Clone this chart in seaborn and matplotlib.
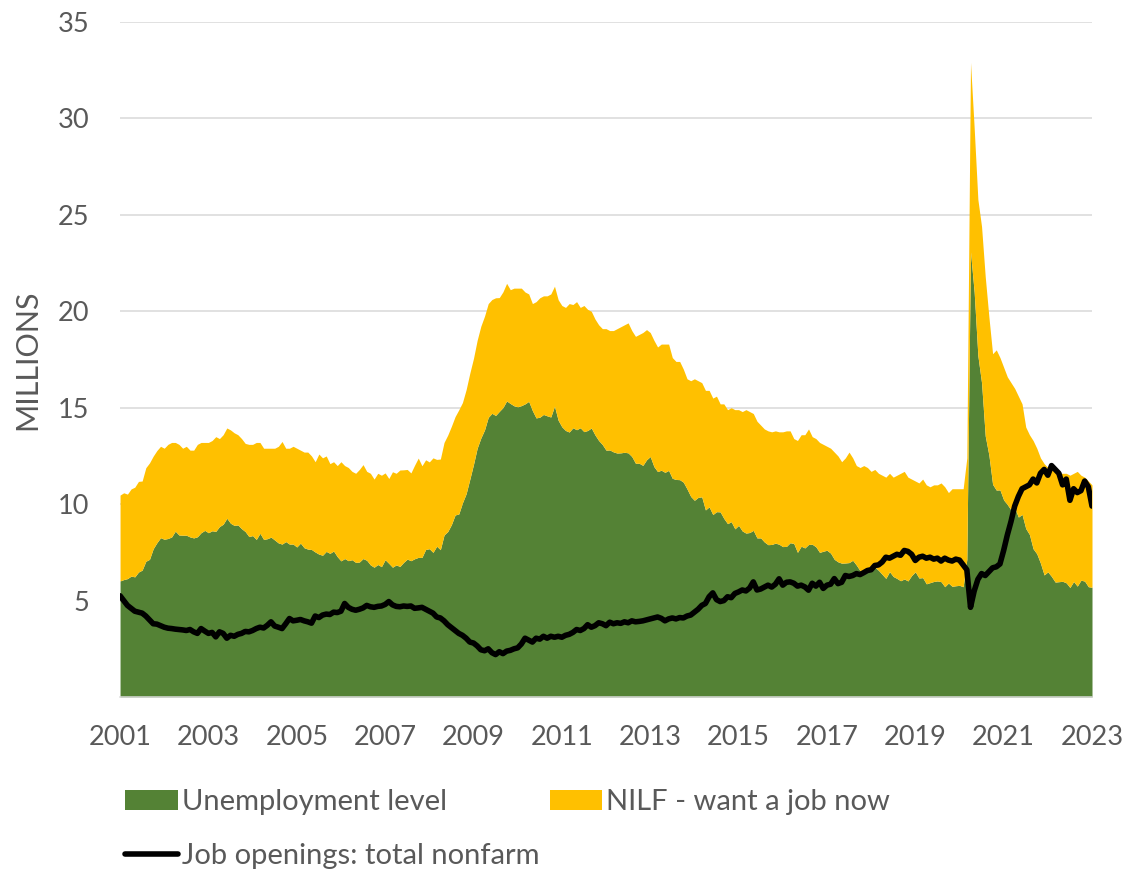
import numpy as np
import pandas as pd
import matplotlib.pyplot as plt
import seaborn as sns

# valores mensais em milhoes, jan/2001 a jan/2023
unemployment_level = [
    6.02, 6.09, 6.14, 6.27, 6.23, 6.48, 6.58, 7.04, 7.14, 7.69, 8.00, 8.26,
    8.18, 8.22, 8.30, 8.60, 8.40, 8.39, 8.39, 8.30, 8.25, 8.31, 8.52, 8.64,
    8.52, 8.62, 8.59, 8.84, 8.96, 9.27, 9.01, 8.90, 8.92, 8.73, 8.58, 8.32,
    8.37, 8.17, 8.49, 8.17, 8.21, 8.29, 8.14, 7.99, 7.93, 8.06, 7.93, 7.93,
    7.78, 7.98, 7.74, 7.67, 7.65, 7.52, 7.41, 7.35, 7.55, 7.45, 7.57, 7.28,
    7.06, 7.18, 7.07, 7.12, 6.98, 7.00, 7.18, 7.09, 6.85, 6.73, 6.87, 6.76,
    7.12, 6.93, 6.73, 6.85, 6.77, 6.98, 7.15, 7.07, 7.17, 7.24, 7.24, 7.65,
    7.69, 7.50, 7.82, 7.64, 8.40, 8.58, 8.94, 9.44, 9.49, 10.07, 10.54, 11.29,
    12.06, 12.90, 13.43, 13.85, 14.50, 14.71, 14.60, 14.81, 15.01, 15.35, 15.22, 15.10,
    15.05, 15.11, 15.20, 15.33, 14.85, 14.47, 14.51, 14.65, 14.58, 14.52, 15.08, 14.35,
    14.01, 13.82, 13.74, 13.96, 13.86, 13.96, 13.76, 13.82, 13.95, 13.59, 13.30, 13.09,
    12.80, 12.81, 12.71, 12.65, 12.66, 12.69, 12.66, 12.47, 12.12, 12.12, 12.01, 12.30,
    12.47, 11.95, 11.69, 11.76, 11.65, 11.75, 11.34, 11.28, 11.27, 11.14, 10.79, 10.40,
    10.20, 10.35, 10.38, 9.70, 9.86, 9.46, 9.61, 9.60, 9.26, 8.99, 9.09, 8.72,
    8.90, 8.61, 8.50, 8.53, 8.64, 8.25, 8.25, 8.04, 7.90, 7.91, 7.98, 7.92,
    7.80, 7.81, 8.00, 7.96, 7.50, 7.82, 7.73, 7.91, 7.92, 7.79, 7.50, 7.56,
    7.61, 7.46, 7.14, 7.01, 6.94, 6.95, 6.97, 7.09, 6.84, 6.55, 6.61, 6.57,
    6.67, 6.74, 6.57, 6.36, 6.15, 6.50, 6.25, 6.15, 6.03, 6.12, 6.02, 6.30,
    6.49, 6.17, 6.19, 5.87, 5.93, 5.99, 6.02, 5.98, 5.72, 5.91, 5.74, 5.77,
    5.79, 5.72, 7.14, 23.08, 20.99, 17.70, 16.30, 13.54, 12.54, 11.03, 10.73, 10.74,
    10.22, 9.98, 9.70, 9.81, 9.33, 9.47, 8.74, 8.43, 7.69, 7.43, 6.94, 6.33,
    6.49, 6.25, 5.96, 5.98, 6.00, 5.92, 5.68, 5.99, 5.75, 6.06, 6.01, 5.72,
    5.69,
]

nilf_want_job = [
    4.45, 4.50, 4.38, 4.52, 4.65, 4.70, 4.62, 4.85, 5.00, 4.80, 4.78, 4.74,
    4.72, 4.88, 4.90, 4.60, 4.70, 4.51, 4.61, 4.50, 4.55, 4.79, 4.68, 4.56,
    4.68, 4.68, 4.91, 4.56, 4.64, 4.68, 4.84, 4.80, 4.68, 4.67, 4.57, 4.78,
    4.73, 5.03, 4.71, 4.73, 4.69, 4.61, 4.76, 5.01, 5.32, 4.84, 4.97, 5.07,
    5.12, 4.82, 4.96, 5.03, 4.85, 4.68, 5.19, 5.05, 4.95, 4.65, 4.63, 4.72,
    5.14, 4.82, 4.83, 4.58, 4.62, 4.80, 4.87, 4.61, 4.75, 4.57, 4.73, 4.74,
    4.50, 4.40, 4.95, 4.75, 5.00, 4.80, 4.65, 4.55, 4.85, 5.15, 4.75, 4.65,
    4.50, 4.90, 4.50, 4.70, 4.80, 5.00, 5.10, 5.10, 5.40, 5.20, 5.40, 5.50,
    5.50, 5.60, 5.80, 5.90, 5.90, 5.90, 6.10, 5.90, 6.00, 6.10, 5.90, 6.10,
    6.15, 6.09, 5.80, 5.57, 5.55, 6.03, 6.19, 6.15, 6.22, 6.38, 6.22, 6.25,
    6.29, 6.38, 6.66, 6.39, 6.64, 6.24, 6.54, 6.28, 6.05, 6.01, 6.00, 6.01,
    6.30, 6.19, 6.29, 6.45, 6.54, 6.61, 6.74, 6.53, 6.58, 6.68, 6.89, 6.75,
    6.43, 6.55, 6.46, 6.54, 6.65, 6.55, 6.26, 6.12, 6.13, 5.86, 5.71, 6.00,
    6.30, 6.05, 5.92, 6.20, 6.04, 6.04, 5.99, 5.60, 5.94, 5.91, 5.91, 6.18,
    6.00, 6.19, 6.40, 6.27, 6.06, 6.05, 5.85, 5.86, 5.90, 5.84, 5.82, 5.83,
    5.95, 5.99, 5.80, 5.44, 5.80, 5.78, 5.87, 5.99, 5.58, 5.61, 5.70, 5.54,
    5.39, 5.44, 5.56, 5.49, 5.26, 5.45, 5.73, 5.31, 5.16, 5.35, 5.39, 5.33,
    5.03, 5.06, 5.03, 5.14, 5.25, 5.10, 5.15, 5.35, 5.57, 5.58, 5.38, 5.00,
    4.71, 4.93, 5.11, 5.13, 4.97, 5.01, 4.98, 5.12, 5.18, 4.69, 5.06, 5.03,
    5.01, 5.08, 5.26, 9.82, 8.51, 8.10, 8.10, 8.26, 7.16, 6.77, 7.27, 6.86,
    6.88, 6.62, 6.60, 6.19, 6.27, 5.73, 5.26, 5.17, 5.61, 5.47, 5.46, 5.77,
    5.41, 5.55, 5.74, 5.62, 5.60, 5.68, 5.82, 5.61, 5.95, 5.44, 5.39, 5.48,
    5.31,
]

job_openings = [
    5.25, 5.00, 4.75, 4.60, 4.45, 4.40, 4.35, 4.20, 4.00, 3.80, 3.78, 3.70,
    3.62, 3.57, 3.55, 3.52, 3.50, 3.48, 3.45, 3.50, 3.38, 3.30, 3.55, 3.42,
    3.30, 3.35, 3.12, 3.38, 3.30, 3.05, 3.20, 3.15, 3.25, 3.30, 3.40, 3.38,
    3.45, 3.55, 3.62, 3.58, 3.72, 3.90, 3.68, 3.62, 3.55, 3.80, 4.07, 3.95,
    3.98, 4.02, 3.95, 3.90, 3.83, 4.20, 4.12, 4.25, 4.30, 4.28, 4.40, 4.38,
    4.45, 4.85, 4.65, 4.55, 4.50, 4.55, 4.62, 4.75, 4.68, 4.65, 4.70, 4.72,
    4.80, 4.95, 4.78, 4.70, 4.68, 4.72, 4.70, 4.72, 4.60, 4.62, 4.65, 4.55,
    4.45, 4.35, 4.15, 4.10, 3.95, 3.75, 3.60, 3.45, 3.30, 3.20, 3.05, 2.85,
    2.80, 2.65, 2.45, 2.40, 2.50, 2.30, 2.20, 2.35, 2.25, 2.38, 2.42, 2.50,
    2.55, 2.75, 3.05, 2.95, 2.85, 3.05, 3.00, 3.15, 3.05, 3.15, 3.10, 3.15,
    3.10, 3.20, 3.25, 3.35, 3.50, 3.45, 3.55, 3.75, 3.62, 3.70, 3.85, 3.80,
    3.70, 3.88, 3.80, 3.85, 3.82, 3.90, 3.85, 3.95, 3.90, 3.92, 3.95, 4.00,
    4.05, 4.10, 4.15, 4.08, 3.95, 4.05, 4.10, 4.05, 4.12, 4.10, 4.20, 4.25,
    4.40, 4.55, 4.75, 4.85, 5.20, 5.40, 5.05, 4.95, 5.00, 5.20, 5.15, 5.37,
    5.45, 5.55, 5.50, 5.65, 5.97, 5.55, 5.60, 5.70, 5.80, 5.70, 5.85, 6.13,
    5.80, 5.95, 5.97, 5.90, 5.75, 5.80, 5.71, 5.54, 5.90, 5.75, 5.95, 5.63,
    5.80, 5.85, 6.14, 5.88, 5.95, 6.30, 6.25, 6.30, 6.40, 6.35, 6.45, 6.56,
    6.60, 6.82, 6.85, 7.00, 7.25, 7.20, 7.30, 7.40, 7.35, 7.60, 7.55, 7.40,
    7.08, 7.25, 7.30, 7.20, 7.25, 7.15, 7.20, 7.05, 7.20, 7.10, 7.05, 7.15,
    7.10, 6.85, 6.60, 4.65, 5.50, 6.10, 6.40, 6.30, 6.50, 6.70, 6.75, 6.90,
    7.60, 8.40, 9.10, 9.90, 10.40, 10.80, 10.90, 11.00, 11.30, 11.10, 11.60, 11.80,
    11.50, 12.00, 11.80, 11.60, 11.00, 11.30, 10.20, 10.80, 10.60, 10.70, 11.20, 10.90,
    9.90,
]

anos_labels = ['2001', '2003', '2005', '2007', '2009', '2011',
               '2013', '2015', '2017', '2019', '2021', '2023']

df = pd.DataFrame({'Unemployment level': unemployment_level,
                   'NILF - want a job now': nilf_want_job,
                   'Job openings: total nonfarm': job_openings})
df['Mes'] = np.arange(len(df))

sns.set_theme(style='white')
plt.rcParams['font.family'] = ['Lato', 'DejaVu Sans']

cinza = '#595959'
verde = '#548235'
amarelo = '#FFC000'

fig, ax = plt.subplots(figsize=(11.23, 8.69), dpi=100)
fig.subplots_adjust(left=0.1069, right=0.9724, top=0.9747, bottom=0.1979)

ax.stackplot(df['Mes'], df['Unemployment level'], df['NILF - want a job now'],
             colors=[verde, amarelo], labels=['Unemployment level', 'NILF - want a job now'],
             linewidth=0)
sns.lineplot(data=df, x='Mes', y='Job openings: total nonfarm', color='black',
             linewidth=4.0, ax=ax, label='Job openings: total nonfarm')

ax.set_xlim(0, len(df) - 1)
ax.set_ylim(0, 35)
ax.set_yticks(range(5, 40, 5))
ax.set_xticks(range(0, len(df), 24))
ax.set_xticklabels(anos_labels)

ax.set_axisbelow(True)
ax.yaxis.grid(True, color='#D9D9D9', linewidth=1.1)
ax.xaxis.grid(False)
for lado in ['top', 'right', 'left']:
    ax.spines[lado].set_visible(False)
ax.spines['bottom'].set_color('#D9D9D9')
ax.spines['bottom'].set_linewidth(1.1)

ax.tick_params(axis='both', length=0, labelsize=19.5, labelcolor=cinza)
ax.tick_params(axis='x', pad=20)
ax.tick_params(axis='y', pad=22)

ax.set_xlabel('')
ax.set_ylabel('MILLIONS', fontsize=22, color=cinza)
ax.yaxis.set_label_coords(-0.081, 0.50)

handles, labels = ax.get_legend_handles_labels()
ax.get_legend().remove()
ordem = [0, 2, 1]
fig.legend([handles[i] for i in ordem], [labels[i] for i in ordem],
           ncol=2, loc='upper left', bbox_to_anchor=(125 / 1123, 1 - 789 / 869),
           frameon=False, fontsize=21, labelcolor=cinza,
           handlelength=1.8, handleheight=0.7, handletextpad=0.15,
           columnspacing=0.35, labelspacing=0.95, borderpad=0, borderaxespad=0)

plt.savefig('out.png', dpi=100)
